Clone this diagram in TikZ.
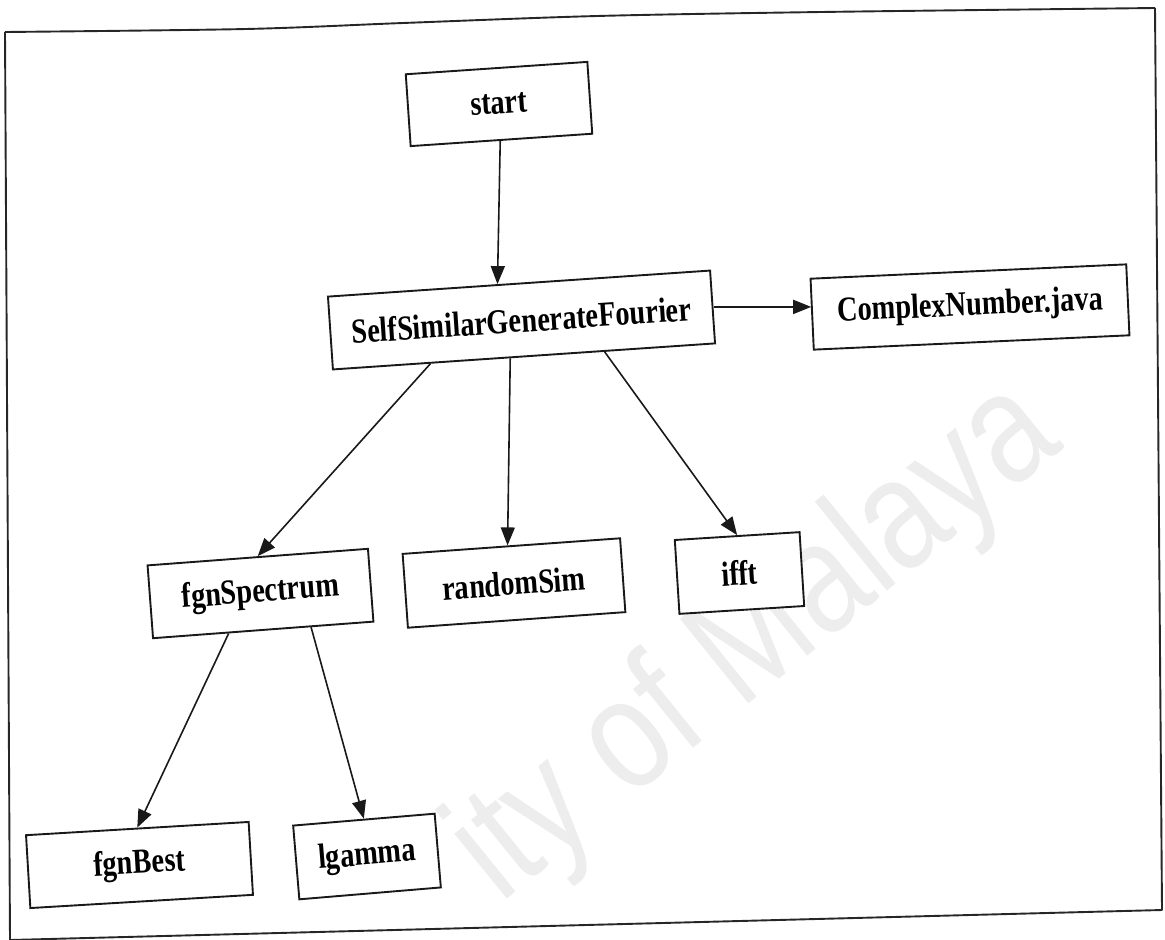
\documentclass[tikz,border=0pt]{standalone}
\usepackage{fontspec}
\usetikzlibrary{arrows.meta,calc}
\newfontfamily\boxfont{Liberation Serif}[FakeStretch=0.81]
\newfontfamily\markfont{Liberation Sans}[FakeStretch=0.82]
\begin{document}
\begin{tikzpicture}[x=1pt,y=-1pt,
  box/.style={draw=black!90, line width=1.9pt, inner sep=0pt, fill=white,
    font=\boxfont\bfseries\fontsize{35}{42}\selectfont, rotate=2},
  arr/.style={draw=black!90, line width=1.6pt, -{Triangle[length=18pt,width=14pt]}},
  border/.style={draw=black!85, line width=1.9pt, line join=round}]
\useasboundingbox (0,0) rectangle (1165,940);
% faint watermark behind the chart
\begin{scope}
  \clip (0,0) rectangle (1165,940);
  \node[anchor=base west, rotate=39, inner sep=0pt, text=black!7,
    font=\markfont\fontsize{158}{158}\selectfont] (mark) at (500,905) {ity of Malaya};
\end{scope}
% outer frame
\draw[border] plot[smooth] coordinates {(5,32) (246,29) (403,23) (597,16) (821,12) (1155,8)};
\draw[border] (1155,8) -- (1162,910) -- (10,940);
\draw[border] (5,32) -- (10,940);
% boxes
\node[box, rotate=1.9, minimum width=182pt, minimum height=72pt] (start) at (499,104) {start};
\node[box, rotate=1.9, minimum width=383pt, minimum height=73pt] (ssgf) at (521.5,320) {SelfSimilarGenerateFourier};
\node[box, rotate=0.6, minimum width=316pt, minimum height=71pt] (cnum) at (970,307) {ComplexNumber.java};
\node[box, rotate=2.3, minimum width=221pt, minimum height=73pt] (spec) at (260.5,593.5) {fgnSpectrum};
\node[box, rotate=2.1, minimum width=218pt, minimum height=74pt] (rsim) at (514,583) {randomSim};
\node[box, rotate=1.6, minimum width=125pt, minimum height=74pt] (ifft) at (739.5,573) {ifft};
\node[box, rotate=1.4, minimum width=223pt, minimum height=73pt] (best) at (139.5,865) {fgnBest};
\node[box, rotate=2.8, minimum width=142pt, minimum height=74pt] (lgam) at (367,856.5) {lgamma};
% calls
\draw[arr] ($(start.south west)!0.493!(start.south east)$) -- ($(ssgf.north west)!0.444!(ssgf.north east)$);
\draw[arr] (ssgf.east) -- (ssgf.east -| cnum.west);
\draw[arr] ($(ssgf.south west)!0.256!(ssgf.south east)$) -- (spec.north);
\draw[arr] ($(ssgf.south west)!0.464!(ssgf.south east)$) -- ($(rsim.north west)!0.483!(rsim.north east)$);
\draw[arr] ($(ssgf.south west)!0.71!(ssgf.south east)$) -- (ifft.north);
\draw[arr] ($(spec.south west)!0.344!(spec.south east)$) -- (best.north);
\draw[arr] ($(spec.south west)!0.715!(spec.south east)$) -- (lgam.north);
\end{tikzpicture}
\end{document}
